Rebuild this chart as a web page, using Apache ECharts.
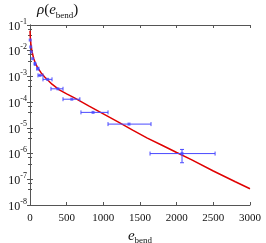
<!DOCTYPE html>
<html><head><meta charset="utf-8">
<script src="https://cdn.jsdelivr.net/npm/echarts@6/dist/echarts.min.js"></script>
<style>html,body{margin:0;padding:0;background:#fff}#c{width:266px;height:243px}</style>
</head><body><div id="c"></div>
<script>
// Fitted curve (red)
var curveX = [0, 5, 10, 25, 50, 75, 100, 150, 200, 300, 400, 500, 600, 800, 1000, 1200, 1400, 1600, 1800, 2000, 2200, 2500, 2800, 3000];
var curveY = [0.06, 0.03, 0.02, 0.01, 0.005, 0.0032, 0.0023, 0.0014, 0.00095, 0.0005, 0.0003, 0.00021, 0.00015, 7.2e-5, 3.5e-5, 1.7e-5, 8.2e-6, 4e-6, 2.1e-6, 1.1e-6, 5.8e-7, 2.1e-7, 8e-8, 4.3e-8];
// Binned data (blue) with horizontal error ranges
var ptX   = [3, 10, 18, 36, 68, 105, 136, 240, 380, 570, 860, 1350, 2073];
var ptY   = [0.026, 0.014, 0.009, 0.0049, 0.0031, 0.002, 0.0011, 0.00077, 0.00033, 0.00013, 4e-5, 1.4e-5, 1e-6];
var ptXlo = [3, 10, 18, 36, 60, 95, 109, 177, 286, 450, 695, 1064, 1637];
var ptXhi = [3, 10, 18, 36, 76, 120, 177, 300, 450, 680, 1064, 1650, 2524];
var ptYlo = [null, null, null, null, null, null, null, null, null, null, null, null, 4.4e-7];
var ptYhi = [null, null, null, null, null, null, null, null, null, null, null, null, 1.45e-6];
var xTicks = [0, 500, 1000, 1500, 2000, 2500, 3000];

var curve = curveX.map(function (x, i) { return [x, curveY[i]]; });
var pts = ptX.map(function (x, i) { return [x, ptY[i]]; });
var errs = ptX.map(function (x, i) { return [x, ptY[i], ptXlo[i], ptXhi[i], ptYlo[i], ptYhi[i]]; });

var serif = 'Liberation Serif';
var frame = '#555';
var blue = '#4a4aff';
var chart = echarts.init(document.getElementById('c'), null, {renderer: 'canvas'});
chart.setOption({
  animation: false,
  grid: {left: 30, right: 16, top: 25, bottom: 38, containLabel: false, outerBoundsMode: 'none'},
  title: {
    text: '{i|ρ}{p|(}{i|e}{s|bend}{p|)}',
    left: 37, top: 0, padding: 0,
    textStyle: {
      fontWeight: 'normal',
      rich: {
        i: {fontFamily: serif, fontStyle: 'italic', fontWeight: 'normal', fontSize: 15, color: '#111', lineHeight: 20},
        p: {fontFamily: serif, fontWeight: 'normal', fontSize: 15, color: '#111', lineHeight: 20},
        s: {fontFamily: serif, fontWeight: 'normal', fontSize: 9, color: '#111', lineHeight: 20, verticalAlign: 'bottom', padding: [6, 0, 0, 0]}
      }
    }
  },
  xAxis: [{
    type: 'value', min: 0, max: 3000, interval: 500,
    axisLine: {lineStyle: {color: frame, width: 1}},
    axisTick: {inside: true, length: 3, lineStyle: {color: frame}},
    splitLine: {show: false},
    axisLabel: {fontFamily: serif, fontSize: 11, color: '#111', margin: 8,
      formatter: function (v) { return xTicks.indexOf(v) >= 0 ? String(v) : ''; }},
    name: '{i|e}{s|bend}', nameLocation: 'middle', nameGap: 21,
    nameTextStyle: {
      rich: {
        i: {fontFamily: serif, fontStyle: 'italic', fontSize: 15, color: '#111', lineHeight: 18},
        s: {fontFamily: serif, fontSize: 9, color: '#111', lineHeight: 18, verticalAlign: 'bottom', padding: [6, 0, 0, 0]}
      }
    }
  }, {
    type: 'value', min: 0, max: 3000, interval: 500, position: 'top',
    axisLine: {lineStyle: {color: frame, width: 1}},
    axisTick: {inside: true, length: 3, lineStyle: {color: frame}},
    axisLabel: {show: false}, splitLine: {show: false}
  }],
  yAxis: [{
    type: 'log', logBase: 10, min: 1e-8, max: 1e-1, splitNumber: 7,
    axisLine: {show: true, lineStyle: {color: frame, width: 1}},
    axisTick: {inside: true, length: 3, lineStyle: {color: frame}},
    minorTick: {show: true, splitNumber: 3, length: 2, lineStyle: {color: frame}},
    splitLine: {show: false},
    axisLabel: {
      margin: 3,
      formatter: function (v) { return '{b|10}{s|' + Math.round(Math.log10(v)) + '}'; },
      rich: {
        b: {fontFamily: serif, fontSize: 12, color: '#111', lineHeight: 15, verticalAlign: 'bottom'},
        s: {fontFamily: serif, fontSize: 8, color: '#111', lineHeight: 15, verticalAlign: 'top'}
      }
    }
  }, {
    type: 'log', logBase: 10, min: 1e-8, max: 1e-1, splitNumber: 7, position: 'right',
    axisLine: {show: true, lineStyle: {color: frame, width: 1}},
    axisTick: {inside: true, length: 3, lineStyle: {color: frame}},
    minorTick: {show: true, splitNumber: 3, length: 2, lineStyle: {color: frame}},
    splitLine: {show: false}, axisLabel: {show: false}
  }],
  series: [{
    type: 'line', data: curve, showSymbol: false, smooth: false,
    lineStyle: {color: '#e00000', width: 1.5}, z: 3
  }, {
    type: 'custom', data: errs, z: 4,
    renderItem: function (params, api) {
      var x = api.value(0), y = api.value(1), xl = api.value(2), xh = api.value(3);
      var children = [];
      var st = {stroke: blue, lineWidth: 1};
      if (xh > xl) {
        var a = api.coord([xl, y]), b = api.coord([xh, y]);
        children.push({type: 'line', shape: {x1: a[0], y1: a[1], x2: b[0], y2: b[1]}, style: st});
        children.push({type: 'line', shape: {x1: a[0], y1: a[1] - 2, x2: a[0], y2: a[1] + 2}, style: st});
        children.push({type: 'line', shape: {x1: b[0], y1: b[1] - 2, x2: b[0], y2: b[1] + 2}, style: st});
      }
      var yl = api.value(4), yh = api.value(5);
      if (yl && yh && !isNaN(yl) && !isNaN(yh)) {
        var c = api.coord([x, yl]), d = api.coord([x, yh]);
        children.push({type: 'line', shape: {x1: c[0], y1: c[1], x2: d[0], y2: d[1]}, style: st});
        children.push({type: 'line', shape: {x1: c[0] - 2, y1: c[1], x2: c[0] + 2, y2: c[1]}, style: st});
        children.push({type: 'line', shape: {x1: d[0] - 2, y1: d[1], x2: d[0] + 2, y2: d[1]}, style: st});
      }
      return {type: 'group', children: children};
    }
  }, {
    type: 'scatter', data: pts, symbol: 'rect', symbolSize: 3,
    itemStyle: {color: blue}, z: 5
  }]
});
</script></body></html>
